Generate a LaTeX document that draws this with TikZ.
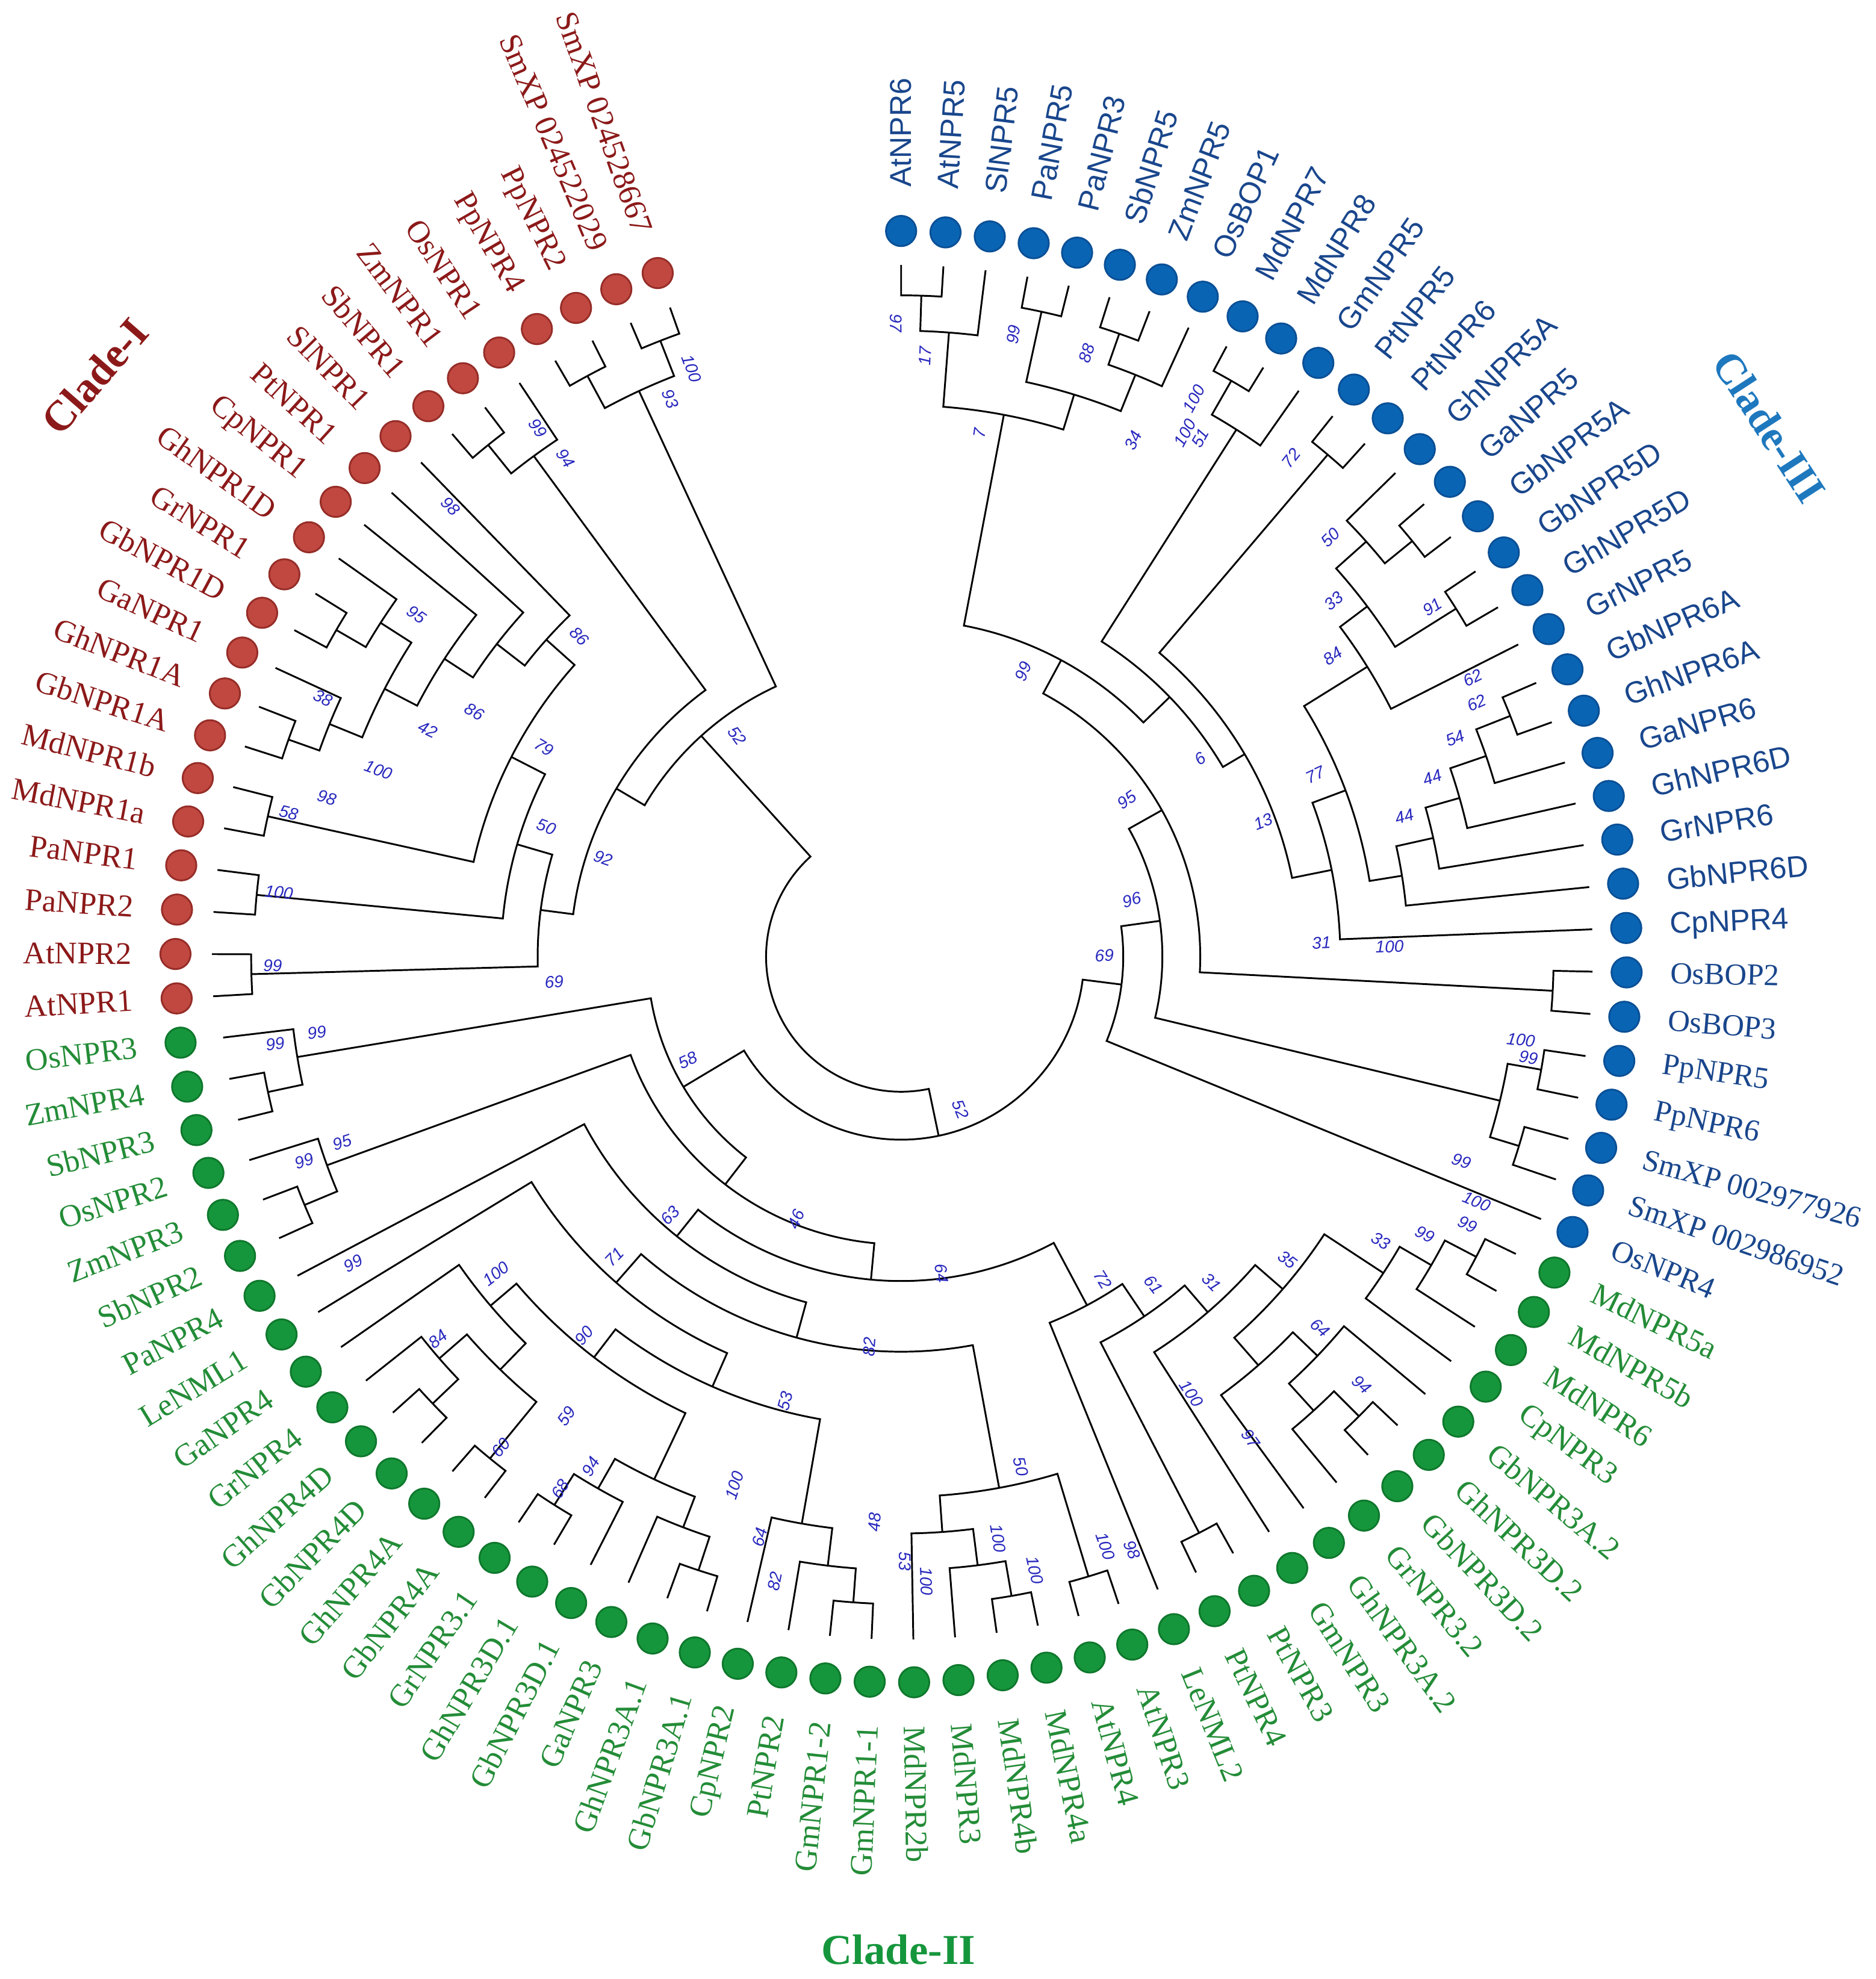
\documentclass[tikz,border=0pt]{standalone}
\usepackage{fontspec}
\setmainfont{Liberation Serif}
\setsansfont{Liberation Sans}

\definecolor{redfill}{RGB}{192,72,64}
\definecolor{reddraw}{RGB}{150,45,40}
\definecolor{redtext}{RGB}{140,25,25}
\definecolor{greenfill}{RGB}{22,150,60}
\definecolor{greendraw}{RGB}{15,120,45}
\definecolor{greentext}{RGB}{35,140,55}
\definecolor{bluefill}{RGB}{10,100,180}
\definecolor{bluedraw}{RGB}{10,80,150}
\definecolor{bluetext}{RGB}{25,70,140}
\definecolor{bluehead}{RGB}{30,120,190}
\definecolor{bootblue}{RGB}{40,40,190}

% point of the tree: name, place on the ring (leaf index), radius
\newcommand\ringpt[3]{%
  \pgfmathsetmacro\tang{109.6+3.5093*#2}%
  \expandafter\xdef\csname ta@#1\endcsname{\tang}%
  \expandafter\xdef\csname tr@#1\endcsname{#3}%
  \coordinate (#1) at (\tang:#3);}
% parent -> child: arc on the parent radius, then out to the child
\newcommand\ringlink[2]{%
  \edef\tpA{\csname ta@#1\endcsname}%
  \edef\tpB{\csname ta@#2\endcsname}%
  \edef\tpR{\csname tr@#1\endcsname}%
  \draw[branch] (#1) arc[start angle=\tpA, end angle=\tpB, radius=\tpR] -- (#2);}
% leaf: index, tip radius, clade, text
\newcommand\ringleaf[4]{%
  \ringpt{t#1}{#1}{#2}%
  \node[dot#3] (d#1) at (\tang:575) {};%
  \pgfmathtruncatemacro\tside{cos(\tang)>-0.01 ? 1 : 0}%
  \ifnum\tside=1
    \node[txt#3, anchor=west, rotate=\tang] (l#1) at (\tang:609) {#4};%
  \else
    \pgfmathsetmacro\tflip{\tang-180}%
    \node[txt#3, anchor=east, rotate=\tflip] (l#1) at (\tang:609) {#4};%
  \fi}
% bootstrap value
\newcommand\bootval[4]{%
  \pgfmathsetmacro\bang{atan2(#3,#2)}%
  \pgfmathsetmacro\brot{cos(\bang)>=0 ? \bang : \bang-180}%
  \node[boot, rotate=\brot] (#1) at (#2,#3) {#4};}

\begin{document}
\begin{tikzpicture}[
    x = 0.1mm, y = 0.1mm, % one unit per pixel of the small copy
    branch/.style = {line width = 0.4pt, black},
    dot/.style = {circle, inner sep = 0pt, minimum size = 2.4mm, line width = 0.4pt},
    dotI/.style = {dot, fill = redfill, draw = reddraw},
    dotII/.style = {dot, fill = greenfill, draw = greendraw},
    dotIII/.style = {dot, fill = bluefill, draw = bluedraw},
    dotIIIs/.style = {dotIII},
    txtI/.style = {text = redtext, inner sep = 0pt, font = \fontsize{7.1}{8}\selectfont},
    txtII/.style = {text = greentext, inner sep = 0pt, font = \fontsize{7.1}{8}\selectfont},
    txtIII/.style = {text = bluetext, inner sep = 0pt, font = \fontsize{6.9}{8}\selectfont},
    txtIIIs/.style = {text = bluetext, inner sep = 0pt, font = \sffamily\fontsize{6.8}{8}\selectfont},
    boot/.style = {text = bootblue, inner sep = 0pt, font = \sffamily\itshape\fontsize{3.8}{4}\selectfont},
    clade/.style = {inner sep = 0pt, font = \bfseries\fontsize{9.6}{11}\selectfont}
  ]
  \useasboundingbox (-714,-810) rectangle (772,758);

  % leaves, dots and names
  \foreach \n/\t in {0/SmXP 024528667, 1/SmXP 024522029, 2/PpNPR2, 3/PpNPR4,
      4/OsNPR1, 5/ZmNPR1, 6/SbNPR1, 7/SlNPR1, 8/PtNPR1, 9/CpNPR1, 10/GhNPR1D,
      11/GrNPR1, 12/GbNPR1D, 13/GaNPR1, 14/GhNPR1A, 15/GbNPR1A, 16/MdNPR1b,
      17/MdNPR1a, 18/PaNPR1, 19/PaNPR2, 20/AtNPR2, 21/AtNPR1}
    {\ringleaf{\n}{546}{I}{\t}}
  \foreach \n/\t in {22/OsNPR3, 23/ZmNPR4, 24/SbNPR3, 25/OsNPR2, 26/ZmNPR3,
      27/SbNPR2, 28/PaNPR4, 29/LeNML1, 30/GaNPR4, 31/GrNPR4, 32/GhNPR4D,
      33/GbNPR4D, 34/GhNPR4A, 35/GbNPR4A, 36/GrNPR3.1, 37/GhNPR3D.1,
      38/GbNPR3D.1, 39/GaNPR3, 40/GhNPR3A.1, 41/GbNPR3A.1, 42/CpNPR2, 43/PtNPR2,
      44/GmNPR1-2, 45/GmNPR1-1, 46/MdNPR2b, 47/MdNPR3, 48/MdNPR4b, 49/MdNPR4a,
      50/AtNPR4, 51/AtNPR3, 52/LeNML2, 53/PtNPR4, 54/PtNPR3, 55/GmNPR3,
      56/GhNPR3A.2, 57/GrNPR3.2, 58/GbNPR3D.2, 59/GhNPR3D.2, 60/GbNPR3A.2,
      61/CpNPR3, 62/MdNPR6, 63/MdNPR5b, 64/MdNPR5a}
    {\ringleaf{\n}{541}{II}{\t}}
  \foreach \n/\t in {65/OsNPR4, 66/SmXP 002986952, 67/SmXP 002977926,
      68/PpNPR6, 69/PpNPR5, 70/OsBOP3, 71/OsBOP2}
    {\ringleaf{\n}{548}{III}{\t}}
  \foreach \n/\t in {72/CpNPR4, 73/GbNPR6D, 74/GrNPR6, 75/GhNPR6D, 76/GaNPR6,
      77/GhNPR6A, 78/GbNPR6A, 79/GrNPR5, 80/GhNPR5D, 81/GbNPR5D, 82/GbNPR5A,
      83/GaNPR5, 84/GhNPR5A, 85/PtNPR6, 86/PtNPR5, 87/GmNPR5, 88/MdNPR8,
      89/MdNPR7, 90/OsBOP1, 91/ZmNPR5, 92/SbNPR5, 93/PaNPR3, 94/PaNPR5,
      95/SlNPR5, 96/AtNPR5, 97/AtNPR6}
    {\ringleaf{\n}{548}{IIIs}{\t}}

  % inner points of the tree
  \foreach \nm/\pos/\rad in {root/27.754/107,
      % clade I
      a01/0.5/524, a23/2.5/523, aSmPp/1.5/494, a56/5.5/521, aMono/4.75/492,
      a1112/11.5/517, aG1/10.75/490, a1415/14.5/515, aG2/13.75/489,
      aG/12.25/461, a432/10.625/432, a86b/9.3125/405, a86a/8.15625/377,
      a1617/16.5/514, a79/12.328/347, a1819/18.5/513, a50/15.414/317,
      a2021/20.5/515, a69/17.957/288, aX/11.354/262, a52/6.427/236,
      % clade II
      b2324/23.5/513, b22/22.75/485, b2627/26.5/512, bP/25.75/484,
      b3233/32.5/513, b485a/31.75/485, b3435/34.5/514, b454/33.125/456,
      b427/31.5625/427, b3637/36.5/514, b485b/37.25/485, b4041/40.5/512,
      b484c/39.75/484, b458/38.5/458, b399/35.03/400, b4445/44.5/513,
      b485d/43.75/486, b456/42.875/456, b372/38.953/372, b71/33.977/343,
      b4849/48.5/514, b485m/47.75/486, b457m/46.875/457, b5051/50.5/513,
      b428m/48.6875/428, b313/41.332/313, b63/34.666/284, b5354/53.5/514,
      b5859/58.5/514, b486b/57.75/486, b457b/58.875/457, b430b/57.4375/430,
      b6364/63.5/514, b486c/62.75/486, b457c/61.875/457, b401b/59.656/401,
      b372b/57.328/372, b344/55.414/344, b313b/53.707/313, b64/44.186/257,
      b46/34.968/228, b58/28.859/201, bB/49.08/145,
      % clade III
      c6667/66.5/512, c6869/68.5/515, cSmPp/67.5/488, c7071/70.5/517,
      c7778/77.5/519, c488/76.75/490, c459/75.875/460, c430/74.9375/432,
      c401/73.97/402, c8081/80.5/519, c8283/82.5/522, c493/83.25/494,
      c461/81.875/462, c434/80.4375/435, c77/77.2/376, c348/74.6/348,
      c8586/85.5/522, c316/80.05/316, c8889/88.5/526, c496b/87.75/495,
      c295/83.9/296, c9192/91.5/523, c496/90.75/497, c9394/93.5/523,
      c466/92.125/466, c9697/96.5/524, c17/95.75/496, c7/93.94/437,
      c99/88.92/267, c95/79.71/237, c96/73.6/207, c69/69.3/176}
    {\ringpt{\nm}{\pos}{\rad}}

  % branches
  \foreach \p/\c in {root/a52, root/bB,
      a52/aSmPp, a52/aX, aSmPp/a01, aSmPp/a23, a01/t0, a01/t1, a23/t2, a23/t3,
      aX/aMono, aX/a69, aMono/t4, aMono/a56, a56/t5, a56/t6,
      a69/a50, a69/a2021, a50/a79, a50/a1819, a79/a86a, a79/a1617,
      a86a/t7, a86a/a86b, a86b/t8, a86b/a432, a432/t9, a432/aG,
      aG/aG1, aG/aG2, aG1/t10, aG1/a1112, a1112/t11, a1112/t12,
      aG2/t13, aG2/a1415, a1415/t14, a1415/t15,
      a1617/t16, a1617/t17, a1819/t18, a1819/t19, a2021/t20, a2021/t21}
    {\ringlink{\p}{\c}}
  \foreach \p/\c in {bB/b58, bB/c69, b58/b22, b58/b46,
      b22/t22, b22/b2324, b2324/t23, b2324/t24,
      b46/bP, b46/b64, bP/t25, bP/b2627, b2627/t26, b2627/t27,
      b64/b63, b64/b313b, b63/t28, b63/b313, b313/b71, b313/b428m,
      b71/t29, b71/b372, b372/b399, b372/b456, b399/b427, b399/b458,
      b427/t30, b427/b454, b454/b485a, b454/b3435,
      b485a/t31, b485a/b3233, b3233/t32, b3233/t33, b3435/t34, b3435/t35,
      b458/b485b, b458/b484c, b485b/b3637, b485b/t38, b3637/t36, b3637/t37,
      b484c/t39, b484c/b4041, b4041/t40, b4041/t41,
      b456/t42, b456/b485d, b485d/t43, b485d/b4445, b4445/t44, b4445/t45,
      b428m/b457m, b428m/b5051, b457m/t46, b457m/b485m,
      b485m/t47, b485m/b4849, b4849/t48, b4849/t49, b5051/t50, b5051/t51,
      b313b/t52, b313b/b344, b344/b5354, b344/b372b, b5354/t53, b5354/t54,
      b372b/t55, b372b/b401b, b401b/b430b, b401b/b457c,
      b430b/t56, b430b/b457b, b457b/b486b, b457b/t60,
      b486b/t57, b486b/b5859, b5859/t58, b5859/t59,
      b457c/t61, b457c/b486c, b486c/t62, b486c/b6364, b6364/t63, b6364/t64}
    {\ringlink{\p}{\c}}
  \foreach \p/\c in {c69/t65, c69/c96, c96/cSmPp, c96/c95,
      cSmPp/c6667, cSmPp/c6869, c6667/t66, c6667/t67, c6869/t68, c6869/t69,
      c95/c7071, c95/c99, c7071/t70, c7071/t71, c99/c295, c99/c7,
      c295/c316, c295/c496b, c316/c348, c316/c8586, c8586/t85, c8586/t86,
      c348/t72, c348/c77, c77/c401, c77/c434, c401/t73, c401/c430,
      c430/t74, c430/c459, c459/t75, c459/c488, c488/t76, c488/c7778,
      c7778/t77, c7778/t78, c434/t79, c434/c461, c461/c8081, c461/c493,
      c8081/t80, c8081/t81, c493/c8283, c493/t84, c8283/t82, c8283/t83,
      c496b/t87, c496b/c8889, c8889/t88, c8889/t89,
      c7/c466, c7/c17, c466/c496, c466/c9394, c496/t90, c496/c9192,
      c9192/t91, c9192/t92, c9394/t93, c9394/t94,
      c17/t95, c17/c9697, c9697/t96, c9697/t97}
    {\ringlink{\p}{\c}}

  \begin{scope}[yshift = -0.4mm]
  % bootstrap values
  \foreach \x/\y/\t [count=\k] in {-166/470/100, -183/446/93, -288/423/99,
      -266/399/94, -357/361/98, -384/275/95, -255/258/86, -338/198/86,
      -375/184/42, -458/209/38, -414/152/100, -455/130/98, -485/118/58,
      -283/170/79, -281/107/50, -236/82/92, -130/179/52, -493/55/100,
      -498/-3/99, -275/-16/69,
      -463/-56/99, -496/-65/99, -443/-143/95, -473/-158/99, -169/-78/58,
      47/-117/52, -83/-204/46, -183/-201/63, -434/-239/99, -227/-234/71,
      -321/-247/100, -251/-296/90, -367/-299/84, -265/-360/59, -317/-385/60,
      -246/-400/94, -270/-418/68, -132/-415/100, 32/-247/64, -25/-305/82,
      -92/-348/53, -112/-456/64, -100/-491/82, -21/-444/48, 3/-475/53,
      20/-491/100, 95/-400/50, 77/-457/100, 106/-482/100, 162/-463/100,
      183/-466/98, 160/-252/72, 200/-256/61, 246/-254/31, 306/-236/35,
      380/-221/33, 415/-216/99, 332/-290/64, 365/-335/94, 230/-342/100,
      277/-378/97,
      444/-158/99, 456/-190/100, 449/-208/99, 491/-62/100, 497/-76/99,
      333/15/31, 387/12/100, 287/111/13, 328/148/77, 399/115/44, 421/146/44,
      439/177/54, 237/161/6, 453/225/62, 456/205/62, 342/242/84, 343/286/33,
      421/281/91, 340/336/50, 309/399/72, 232/446/100, 225/419/100,
      237/415/51, 97/230/99, 179/128/95, 183/49/96, 161/5/69, -4/506/97,
      19/480/17, 62/419/7, 89/497/99, 147/482/88, 184/413/34}
    {\bootval{bs\k}{\x}{\y}{\t}}

  % clade names
  \node[clade, text = redtext, rotate = 49] (cladeI) at (-639,464) {Clade-I};
  \node[clade, text = greenfill] (cladeII) at (-2,-783) {Clade-II};
  \node[clade, text = bluehead, rotate = -57] (cladeIII) at (688,424) {Clade-III};
  \end{scope}
\end{tikzpicture}
\end{document}
